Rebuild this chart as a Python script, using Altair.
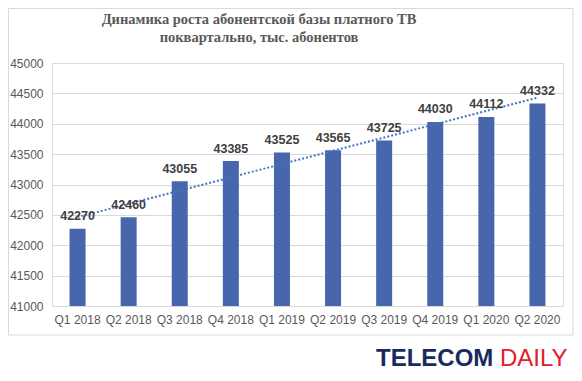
import altair as alt
import pandas as pd

quarters = ["Q1 2018", "Q2 2018", "Q3 2018", "Q4 2018", "Q1 2019",
            "Q2 2019", "Q3 2019", "Q4 2019", "Q1 2020", "Q2 2020"]
subscribers = [42270, 42460, 43055, 43385, 43525, 43565, 43725, 44030, 44112, 44332]
y_ticks = [41000, 41500, 42000, 42500, 43000, 43500, 44000, 44500, 45000]
title_lines = ["Динамика роста абонентской базы платного ТВ",
               "поквартально, тыс. абонентов"]

df = pd.DataFrame({"q": quarters, "v": subscribers, "idx": list(range(len(quarters)))})

W, H = 511, 243
PAD_L, PAD_T = 44, 55

x_enc = alt.X("q:N", sort=quarters, title=None,
              scale=alt.Scale(paddingInner=0, paddingOuter=0),
              axis=alt.Axis(labelAngle=0, ticks=False, domainColor="#d9d9d9",
                            labelColor="#595959", labelFont="Liberation Sans",
                            labelFontSize=12, labelPadding=8, labelOverlap=False))
y_enc = alt.Y("v:Q", title=None,
              scale=alt.Scale(domain=[41000, 45000], zero=False, nice=False, clamp=True),
              axis=alt.Axis(values=y_ticks, tickCount=9, format="d", domain=False, ticks=False,
                            gridColor="#d9d9d9", labelColor="#595959", labelOverlap=False,
                            labelFont="Liberation Sans", labelFontSize=12, labelPadding=9))

base = alt.Chart(df)

bars = base.mark_bar(size=16, color="#4766AC").encode(x=x_enc, y=y_enc)

trend = base.transform_regression("idx", "v").transform_lookup(
    lookup="idx", from_=alt.LookupData(data=df, key="idx", fields=["q"])
).mark_line(color="#4472C4", strokeWidth=2, strokeDash=[2, 2]).encode(
    x=x_enc, y=y_enc)

labels = base.mark_text(dy=-12.5, baseline="middle", fontWeight="bold",
                        fontSize=12.5, font="Liberation Sans", color="#404040").encode(
    x=x_enc, y=y_enc, text=alt.Text("v:Q", format="d"))

# page coords -> plot coords: x - 8 - PAD_L, y - 8 - PAD_T
def px(xp):
    return xp - 8 - PAD_L

def py(yp):
    return yp - 8 - PAD_T

title1 = alt.Chart(pd.DataFrame({"t": [title_lines[0]]})).mark_text(
    font="Liberation Serif", fontWeight="bold", fontSize=14.5, color="#595959",
    baseline="middle", align="center").encode(
    text="t:N", x=alt.value(px(259)), y=alt.value(py(20)))
title2 = alt.Chart(pd.DataFrame({"t": [title_lines[1]]})).mark_text(
    font="Liberation Serif", fontWeight="bold", fontSize=14.5, color="#595959",
    baseline="middle", align="center").encode(
    text="t:N", x=alt.value(px(259)), y=alt.value(py(38)))

logo1 = alt.Chart(pd.DataFrame({"t": ["TELECOM"]})).mark_text(
    font="Liberation Sans", fontWeight="bold", fontSize=24, color="#1B2A5C",
    baseline="alphabetic", align="left").encode(
    text="t:N", x=alt.value(px(376)), y=alt.value(py(366)))
logo2 = alt.Chart(pd.DataFrame({"t": ["DAILY"]})).mark_text(
    font="Liberation Sans", fontSize=24, color="#E0202A",
    baseline="alphabetic", align="left").encode(
    text="t:N", x=alt.value(px(500)), y=alt.value(py(366)))

border = alt.Chart(pd.DataFrame({"a": [0]})).mark_rect(
    fillOpacity=0, stroke="#d9d9d9", strokeWidth=1).encode(
    x=alt.value(-PAD_L + 0.5), x2=alt.value(px(573)),
    y=alt.value(-PAD_T + 0.5), y2=alt.value(py(335)))

chart = alt.layer(border, bars, trend, labels, title1, title2, logo1, logo2).properties(
    width=W, height=H,
    autosize=alt.AutoSizeParams(type="none"),
    padding={"left": PAD_L, "top": PAD_T, "right": 11, "bottom": 67},
).configure_view(stroke=None).configure(background="white")

chart.save("out.html", embed_options={"renderer": "svg", "actions": False})
